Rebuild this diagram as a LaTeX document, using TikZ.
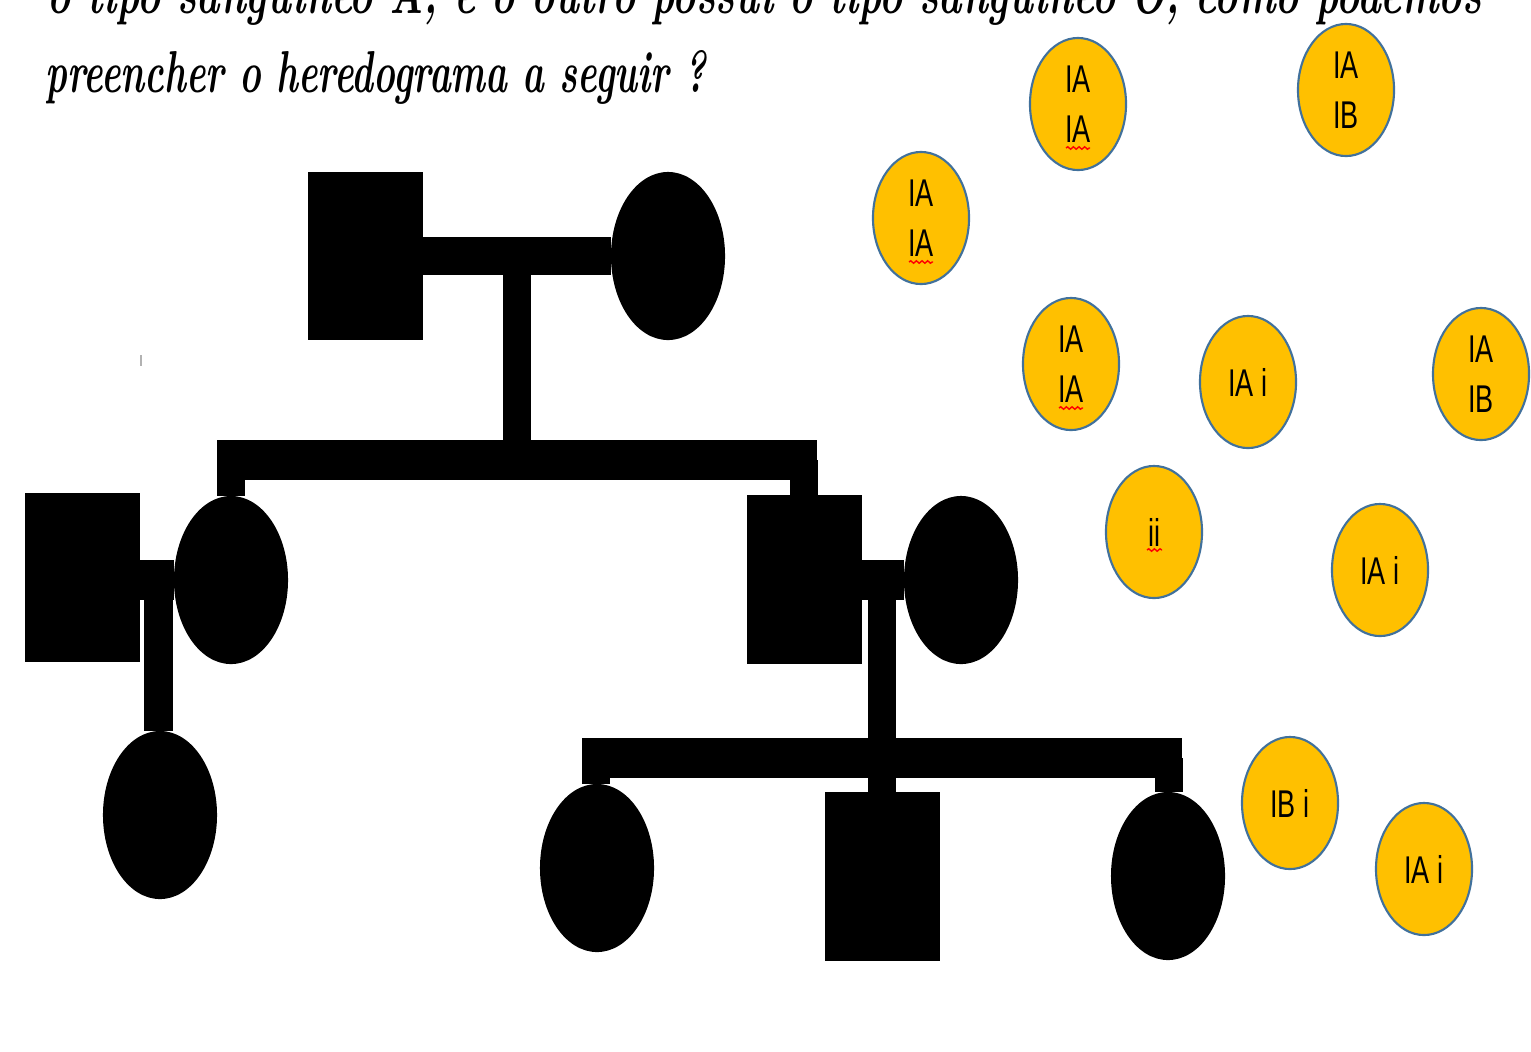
\documentclass[tikz,border=0pt]{standalone}
\usepackage{graphicx}
\usepackage{fontspec}
\newfontfamily\gfont[FakeStretch=0.7]{Liberation Sans}
\usetikzlibrary{shapes.geometric,decorations.pathmorphing}
\definecolor{gold}{HTML}{FFC000}
\definecolor{edgeblue}{HTML}{41719C}
\begin{document}
\begin{tikzpicture}[x=0.01cm,y=-0.01cm,
  person/.style={fill=black, inner sep=0pt, outer sep=0pt},
  male/.style={person, rectangle, minimum width=1.15cm, minimum height=1.68cm},
  female/.style={person, ellipse, minimum width=1.14cm, minimum height=1.68cm},
  allele/.style={ellipse, fill=gold, draw=edgeblue, line width=0.6pt, minimum width=0.96cm,
    minimum height=1.32cm, inner sep=0pt, align=center, font=\gfont\fontsize{11}{14.2}\selectfont},
  bar/.style={draw=black, line width=0.4cm},
  drop/.style={draw=black, line width=0.28cm},
  wavy/.style={draw=red, line width=0.4pt, decorate, decoration={snake, amplitude=0.35pt, segment length=1.6pt}},
  title/.style={anchor=base west, inner sep=0pt}
]
\useasboundingbox (0,0) rectangle (1531,1051);
\clip (0,0) rectangle (1531,1051);
\fill[white] (0,0) rectangle (1531,1051);

% title text
\node[title] (t1) at (47,13) {\resizebox{14.33cm}{0.42cm}{\bfseries\itshape o tipo sanguíneo A, e o outro possui o tipo sanguíneo O, como podemos}};
\node[title] (t2) at (45,92) {\resizebox{6.6cm}{0.42cm}{\bfseries\itshape preencher o heredograma a seguir ?}};

% pedigree persons
\node[male]   (I1)   at (365.5,256) {};
\node[female] (I2)   at (668,256) {};
\node[male]   (II1)  at (82.5,577.5) {};
\node[female] (II2)  at (231,580) {};
\node[male]   (II3)  at (804.5,579.5) {};
\node[female] (II4)  at (961,580) {};
\node[female] (III1) at (160,815) {};
\node[female] (III2) at (597,868) {};
\node[male]   (III3) at (882.5,876.5) {};
\node[female] (III4) at (1168,876) {};

% generation I
\draw[draw=black, line width=0.38cm] (I1.east) -- (I2.west);
\coordinate (m1) at (517,256);
\coordinate (s1) at (517,460);
\draw[drop] (m1) -- (s1);
\coordinate (s1l) at (217,460);
\coordinate (s1r) at (817,460);
\draw[bar] (s1l) -- (s1r);
\coordinate (s1a) at (231,460);
\coordinate (s1b) at (804,460);
\draw[drop] (s1a) -- (II2.north);
\draw[drop] (s1b) -- (s1b |- II3.north);

% left couple
\draw[bar] (II1.east |- II2.west) -- (II2.west);
\coordinate (m2) at (158.5,580);
\draw[drop] (m2) -- (m2 |- III1.north);

% right couple
\draw[bar] (II3.east |- II4.west) -- (II4.west);
\coordinate (m3) at (882,580);
\draw[drop] (m3) -- (m3 |- III3.north);
\coordinate (s2l) at (582,758);
\coordinate (s2r) at (1182,758);
\draw[bar] (s2l) -- (s2r);
\coordinate (s2a) at (596,758);
\coordinate (s2b) at (1168.5,758);
\draw[drop] (s2a) -- (s2a |- III2.north);
\draw[drop] (s2b) -- (s2b |- III4.north);

% small tick mark
\coordinate (tk) at (141,355);
\draw[gray!60, line width=0.5pt] (tk) -- ++(0,11);

% allele ellipses
\node[allele] (a1)  at (921,218)  {IA\\IA};
\node[allele] (a2)  at (1078,104) {IA\\IA};
\node[allele] (a3)  at (1346,90)  {IA\\IB};
\node[allele] (a4)  at (1071,364) {IA\\IA};
\node[allele] (a5)  at (1248,382) {IA i};
\node[allele] (a6)  at (1481,374) {IA\\IB};
\node[allele] (a7)  at (1154,532) {ii};
\node[allele] (a8)  at (1380,570) {IA i};
\node[allele] (a9)  at (1290,803) {IB i};
\node[allele] (a10) at (1424,869) {IA i};

% spell-check wavy underlines
\draw[wavy] ([shift={(-12,44)}]a1.center) -- ++(24,0);
\draw[wavy] ([shift={(-12,44)}]a2.center) -- ++(24,0);
\draw[wavy] ([shift={(-12,44)}]a4.center) -- ++(24,0);
\draw[wavy] ([shift={(-7,18)}]a7.center) -- ++(15,0);
\end{tikzpicture}
\end{document}
